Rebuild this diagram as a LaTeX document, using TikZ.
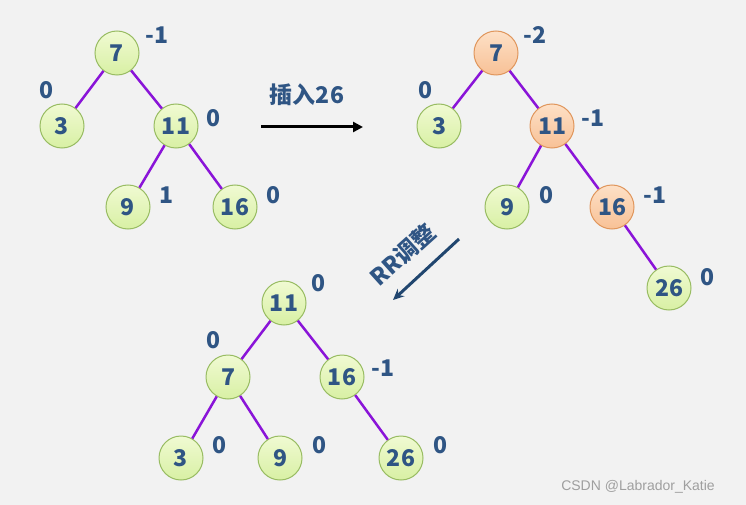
\documentclass[tikz,border=0pt]{standalone}
\usepackage{fontspec}
\setmainfont{Noto Sans CJK SC}
\newfontfamily\wmfont{Liberation Sans}
\usetikzlibrary{arrows.meta}
\definecolor{bg}{HTML}{F2F2F2}
\definecolor{txt}{HTML}{2F5584}
\definecolor{gfill}{HTML}{D8F0A4}
\definecolor{gfilltop}{HTML}{F0FAD2}
\definecolor{gdraw}{HTML}{98BC62}
\definecolor{ofill}{HTML}{F8C196}
\definecolor{ofilltop}{HTML}{FDE0C6}
\definecolor{odraw}{HTML}{E0965C}
\definecolor{edgec}{HTML}{8A14D8}
\definecolor{arrblue}{HTML}{21466F}
\tikzset{
  gnode/.style={circle, minimum size=44pt, inner sep=0pt, draw=gdraw, line width=1pt,
    top color=gfilltop, bottom color=gfill, text=txt, font=\fontsize{23}{23}\selectfont\bfseries},
  onode/.style={circle, minimum size=44pt, inner sep=0pt, draw=odraw, line width=1pt,
    top color=ofilltop, bottom color=ofill, text=txt, font=\fontsize{23}{23}\selectfont\bfseries},
  bal/.style={text=txt, font=\fontsize{23}{23}\selectfont\bfseries, inner sep=0pt},
  tedge/.style={draw=edgec, line width=2.5pt},
}
\begin{document}
\begin{tikzpicture}[x=1pt,y=-1pt]
\fill[bg] (0,0) rectangle (746,505);
\useasboundingbox (0,0) rectangle (746,505);
% tree 1
\node[gnode] (a7) at (117,53) {7};
\node[gnode] (a3) at (62,126) {3};
\node[gnode] (a11) at (176,126) {11};
\node[gnode] (a9) at (128,207) {9};
\node[gnode] (a16) at (235,207) {16};
\draw[tedge] (a7) -- (a3);
\draw[tedge] (a7) -- (a11);
\draw[tedge] (a11) -- (a9);
\draw[tedge] (a11) -- (a16);
\node[bal] (la7) at (157,35) {-1};
\node[bal] (la3) at (47,90) {0};
\node[bal] (la11) at (213,118) {0};
\node[bal] (la9) at (167,195) {1};
\node[bal] (la16) at (273,195) {0};
% arrow insert
\coordinate (i1) at (261,127);
\coordinate (i2) at (363,127);
\draw[line width=3pt, -{Stealth[length=10pt,width=10pt,inset=0pt]}] (i1) -- (i2);
\node[bal] (ins) at (307,95) {插入26};
% tree 2
\node[onode] (b7) at (496,53) {7};
\node[gnode] (b3) at (439,126) {3};
\node[onode] (b11) at (552,126) {11};
\node[gnode] (b9) at (507,207) {9};
\node[onode] (b16) at (612,207) {16};
\node[gnode] (b26) at (669,288) {26};
\draw[tedge] (b7) -- (b3);
\draw[tedge] (b7) -- (b11);
\draw[tedge] (b11) -- (b9);
\draw[tedge] (b11) -- (b16);
\draw[tedge] (b16) -- (b26);
\node[bal] (lb7) at (535,35) {-2};
\node[bal] (lb3) at (425,90) {0};
\node[bal] (lb11) at (593,118) {-1};
\node[bal] (lb9) at (546,195) {0};
\node[bal] (lb16) at (655,195) {-1};
\node[bal] (lb26) at (707,277) {0};
% arrow RR
\coordinate (r1) at (459,239);
\coordinate (r2) at (393,300);
\draw[arrblue, line width=3pt, -{Stealth[length=11pt,width=10pt]}] (r1) -- (r2);
\node[bal, rotate=42] (rr) at (403,255) {RR调整};
% tree 3
\node[gnode] (c11) at (284,303) {11};
\node[gnode] (c7) at (228,377) {7};
\node[gnode] (c16) at (342,377) {16};
\node[gnode] (c3) at (181,458) {3};
\node[gnode] (c9) at (280,458) {9};
\node[gnode] (c26) at (401,458) {26};
\draw[tedge] (c11) -- (c7);
\draw[tedge] (c11) -- (c16);
\draw[tedge] (c7) -- (c3);
\draw[tedge] (c7) -- (c9);
\draw[tedge] (c16) -- (c26);
\node[bal] (lc11) at (318,283) {0};
\node[bal] (lc7) at (213,340) {0};
\node[bal] (lc16) at (383,368) {-1};
\node[bal] (lc3) at (220,445) {0};
\node[bal] (lc9) at (319,445) {0};
\node[bal] (lc26) at (440,445) {0};
% watermark
\node[text=gray!75, font=\wmfont\fontsize{14}{14}\selectfont, inner sep=0pt] (wm) at (638,487) {CSDN @Labrador\_Katie};
\end{tikzpicture}
\end{document}
